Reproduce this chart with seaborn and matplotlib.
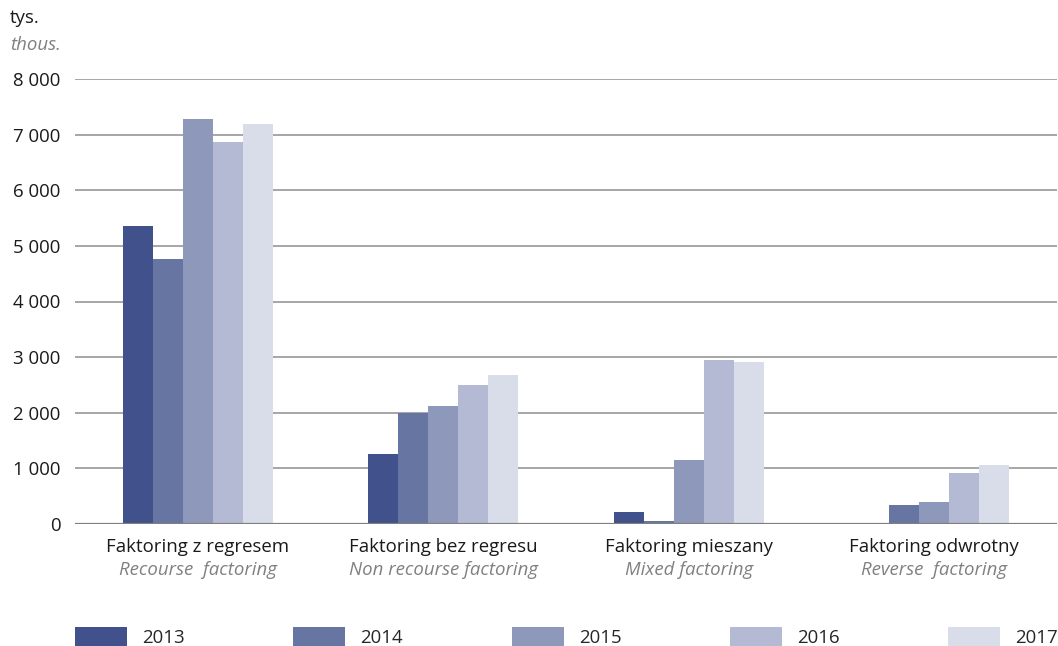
import matplotlib
matplotlib.use("Agg")
import matplotlib.pyplot as plt
import matplotlib.transforms as mtransforms
from matplotlib.patches import Patch
import seaborn as sns
import pandas as pd

categories_pl = ["Faktoring z regresem", "Faktoring bez regresu", "Faktoring mieszany", "Faktoring odwrotny"]
categories_en = ["Recourse  factoring", "Non recourse factoring", "Mixed factoring", "Reverse  factoring"]
years = ["2013", "2014", "2015", "2016", "2017"]
v2013 = [5365, 1260, 215, 0]
v2014 = [4765, 2000, 55, 342]
v2015 = [7280, 2120, 1150, 396]
v2016 = [6870, 2490, 2950, 923]
v2017 = [7195, 2680, 2915, 1060]
colors = ["#41518b", "#6775a2", "#8e98bb", "#b5bad4", "#d9dde9"]
yticks = [0, 1000, 2000, 3000, 4000, 5000, 6000, 7000, 8000]
ytick_labels = ["0", "1 000", "2 000", "3 000", "4 000", "5 000", "6 000", "7 000", "8 000"]

series = [v2013, v2014, v2015, v2016, v2017]
rows = []
for yr, vals in zip(years, series):
    for cat, v in zip(categories_pl, vals):
        rows.append({"kategoria": cat, "rok": yr, "wartosc": v})
df = pd.DataFrame(rows)

sns.set_theme(style="white")
plt.rcParams["font.family"] = ["Open Sans", "DejaVu Sans"]
FS = 13.4

fig = plt.figure(figsize=(10.58, 6.46), dpi=100)
ax = fig.add_axes([75 / 1058, 1 - 524 / 646, (1057 - 75) / 1058, (524 - 79) / 646])

sns.barplot(data=df, x="kategoria", y="wartosc", hue="rok", order=categories_pl,
            hue_order=years, palette=colors, width=0.61, gap=0, saturation=1,
            errorbar=None, legend=False, ax=ax, zorder=3, linewidth=0)

ax.set_xlim(-0.5, 3.5)
ax.set_ylim(0, 8000)
ax.set_yticks(yticks)
ax.set_yticklabels(ytick_labels, fontsize=FS, color="#1a1a1a")
ax.yaxis.grid(True, color="#a6a6a6", linewidth=1.4, zorder=0)
ax.set_axisbelow(True)
for s in ax.spines.values():
    s.set_visible(False)
ax.axhline(0, color="#7f7f7f", linewidth=1.6, zorder=4)
ax.tick_params(axis="both", length=0)
ax.tick_params(axis="y", pad=10.5)
ax.tick_params(axis="x", pad=10)
ax.set_xticks(range(len(categories_pl)))
ax.set_xticklabels(categories_pl, fontsize=FS, color="#1a1a1a")
ax.set_xlabel("")
ax.set_ylabel("")

trans = mtransforms.blended_transform_factory(ax.transData, ax.transAxes)
for i, lab in enumerate(categories_en):
    ax.text(i, -46 / 445, lab, transform=trans, ha="center", va="center",
            fontsize=FS, style="italic", color="#808080")

fig.text(10 / 1058, 1 - 18 / 646, "tys.", fontsize=FS, color="#1a1a1a", va="center", ha="left")
fig.text(10 / 1058, 1 - 45 / 646, "thous.", fontsize=FS, color="#808080",
         style="italic", va="center", ha="left")

handles = [Patch(facecolor=c, edgecolor="none", label=y) for c, y in zip(colors, years)]
fig.legend(handles=handles, ncol=5, loc="center left", mode="expand",
           bbox_to_anchor=(75 / 1058, 1 - 637 / 646, (1058 - 75) / 1058, 0.0),
           frameon=False, fontsize=FS, handlelength=2.8, handleheight=1.3,
           handletextpad=0.8, borderpad=0, borderaxespad=0)

fig.savefig("out.png", dpi=100)
